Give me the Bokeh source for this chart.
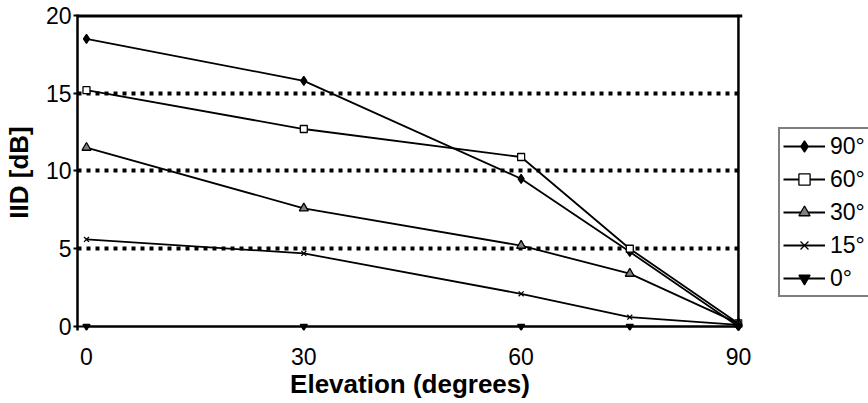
from bokeh.plotting import figure
from bokeh.models import Range1d, FixedTicker, Legend, LegendItem, Span
from bokeh.embed import file_html
from bokeh.resources import INLINE

elevation = [0, 30, 60, 75, 90]
s90 = [18.5, 15.8, 9.5, 4.8, 0.0]
s60 = [15.2, 12.7, 10.9, 5.0, 0.2]
s30 = [11.5, 7.6, 5.2, 3.4, 0.2]
s15 = [5.6, 4.7, 2.1, 0.6, 0.1]
s0 = [0.0, 0.0, 0.0, 0.0, 0.0]
series_labels = ["90°", "60°", "30°", "15°", "0°"]
x_ticks = [0, 30, 60, 90]
y_ticks = [0, 5, 10, 15, 20]
grid_levels = [5, 10, 15]

X0, X1 = -1.24, 90.56
Y0, Y1 = -0.257, 20.064
XMAX, YMAX = 90, 20

p = figure(output_backend="svg", toolbar_location=None,
           x_range=Range1d(X0, X1), y_range=Range1d(Y0, Y1),
           frame_width=665, frame_height=316,
           min_border_left=77, min_border_right=126, min_border_top=14, min_border_bottom=73)
p.outline_line_color = None
p.background_fill_color = "white"
p.border_fill_color = "white"

# grid
p.xgrid.visible = False
p.ygrid.ticker = FixedTicker(ticks=grid_levels)
p.ygrid.grid_line_color = "black"
p.ygrid.grid_line_width = 4
p.ygrid.grid_line_dash = "4 5"

# axes
p.xaxis.ticker = FixedTicker(ticks=x_ticks)
p.yaxis.ticker = FixedTicker(ticks=y_ticks)
for ax in (p.xaxis[0], p.yaxis[0]):
    ax.major_label_text_font = "Liberation Sans"
    ax.major_label_text_font_size = "23px"
    ax.major_label_text_color = "black"
    ax.axis_label_text_font = "Liberation Sans"
    ax.axis_label_text_font_style = "bold"
    ax.axis_label_text_font_size = "26px"
    ax.axis_label_text_color = "black"
    ax.minor_tick_line_color = None
p.xaxis.axis_line_color = None
p.xaxis.major_tick_line_color = None
p.xaxis.major_tick_in = 0
p.xaxis.major_tick_out = 0
p.xaxis.major_label_standoff = 17
p.xaxis.axis_label = "Elevation (degrees)"
p.xaxis.axis_label_standoff = 1
p.yaxis.axis_line_color = "black"
p.yaxis.axis_line_width = 2.5
p.yaxis.major_tick_in = 0
p.yaxis.major_tick_out = 4
p.yaxis.major_tick_line_color = "black"
p.yaxis.major_tick_line_width = 2
p.yaxis.major_label_standoff = 2
p.yaxis.axis_label = "IID [dB]"
p.yaxis.axis_label_standoff = 9

# plot box
p.add_layout(Span(location=YMAX, dimension="width", line_color="black", line_width=4))
p.add_layout(Span(location=XMAX, dimension="height", line_color="black", line_width=2.5))
p.add_layout(Span(location=0, dimension="width", line_color="black", line_width=2))

data = [s90, s60, s30, s15, s0]
markers = ["diamond", "square", "triangle", "x", "inverted_triangle"]
fills = ["black", "white", "#808080", "black", "black"]
sizes = [9, 7, 9, 7, 7]
items = []
for vals, lab, m, fc, sz in zip(data, series_labels, markers, fills, sizes):
    r1 = p.line(elevation, vals, line_color="black", line_width=1.8)
    r2 = p.scatter(elevation, vals, marker=m, size=sz, fill_color=fc,
                   line_color="black", line_width=1.3)
    items.append(LegendItem(label=lab, renderers=[r1, r2]))

legend = Legend(items=items, location=(36, 33))
legend.label_text_font = "Liberation Sans"
legend.label_text_font_size = "23px"
legend.label_text_color = "black"
legend.glyph_width = 42
legend.glyph_height = 28
legend.label_height = 28
legend.label_width = 48
legend.spacing = 5
legend.padding = 3
legend.margin = 0
legend.label_standoff = 5
legend.border_line_color = "black"
legend.border_line_width = 2.5
legend.background_fill_alpha = 1
p.add_layout(legend, "right")

open("out.html", "w").write(file_html(p, INLINE))
